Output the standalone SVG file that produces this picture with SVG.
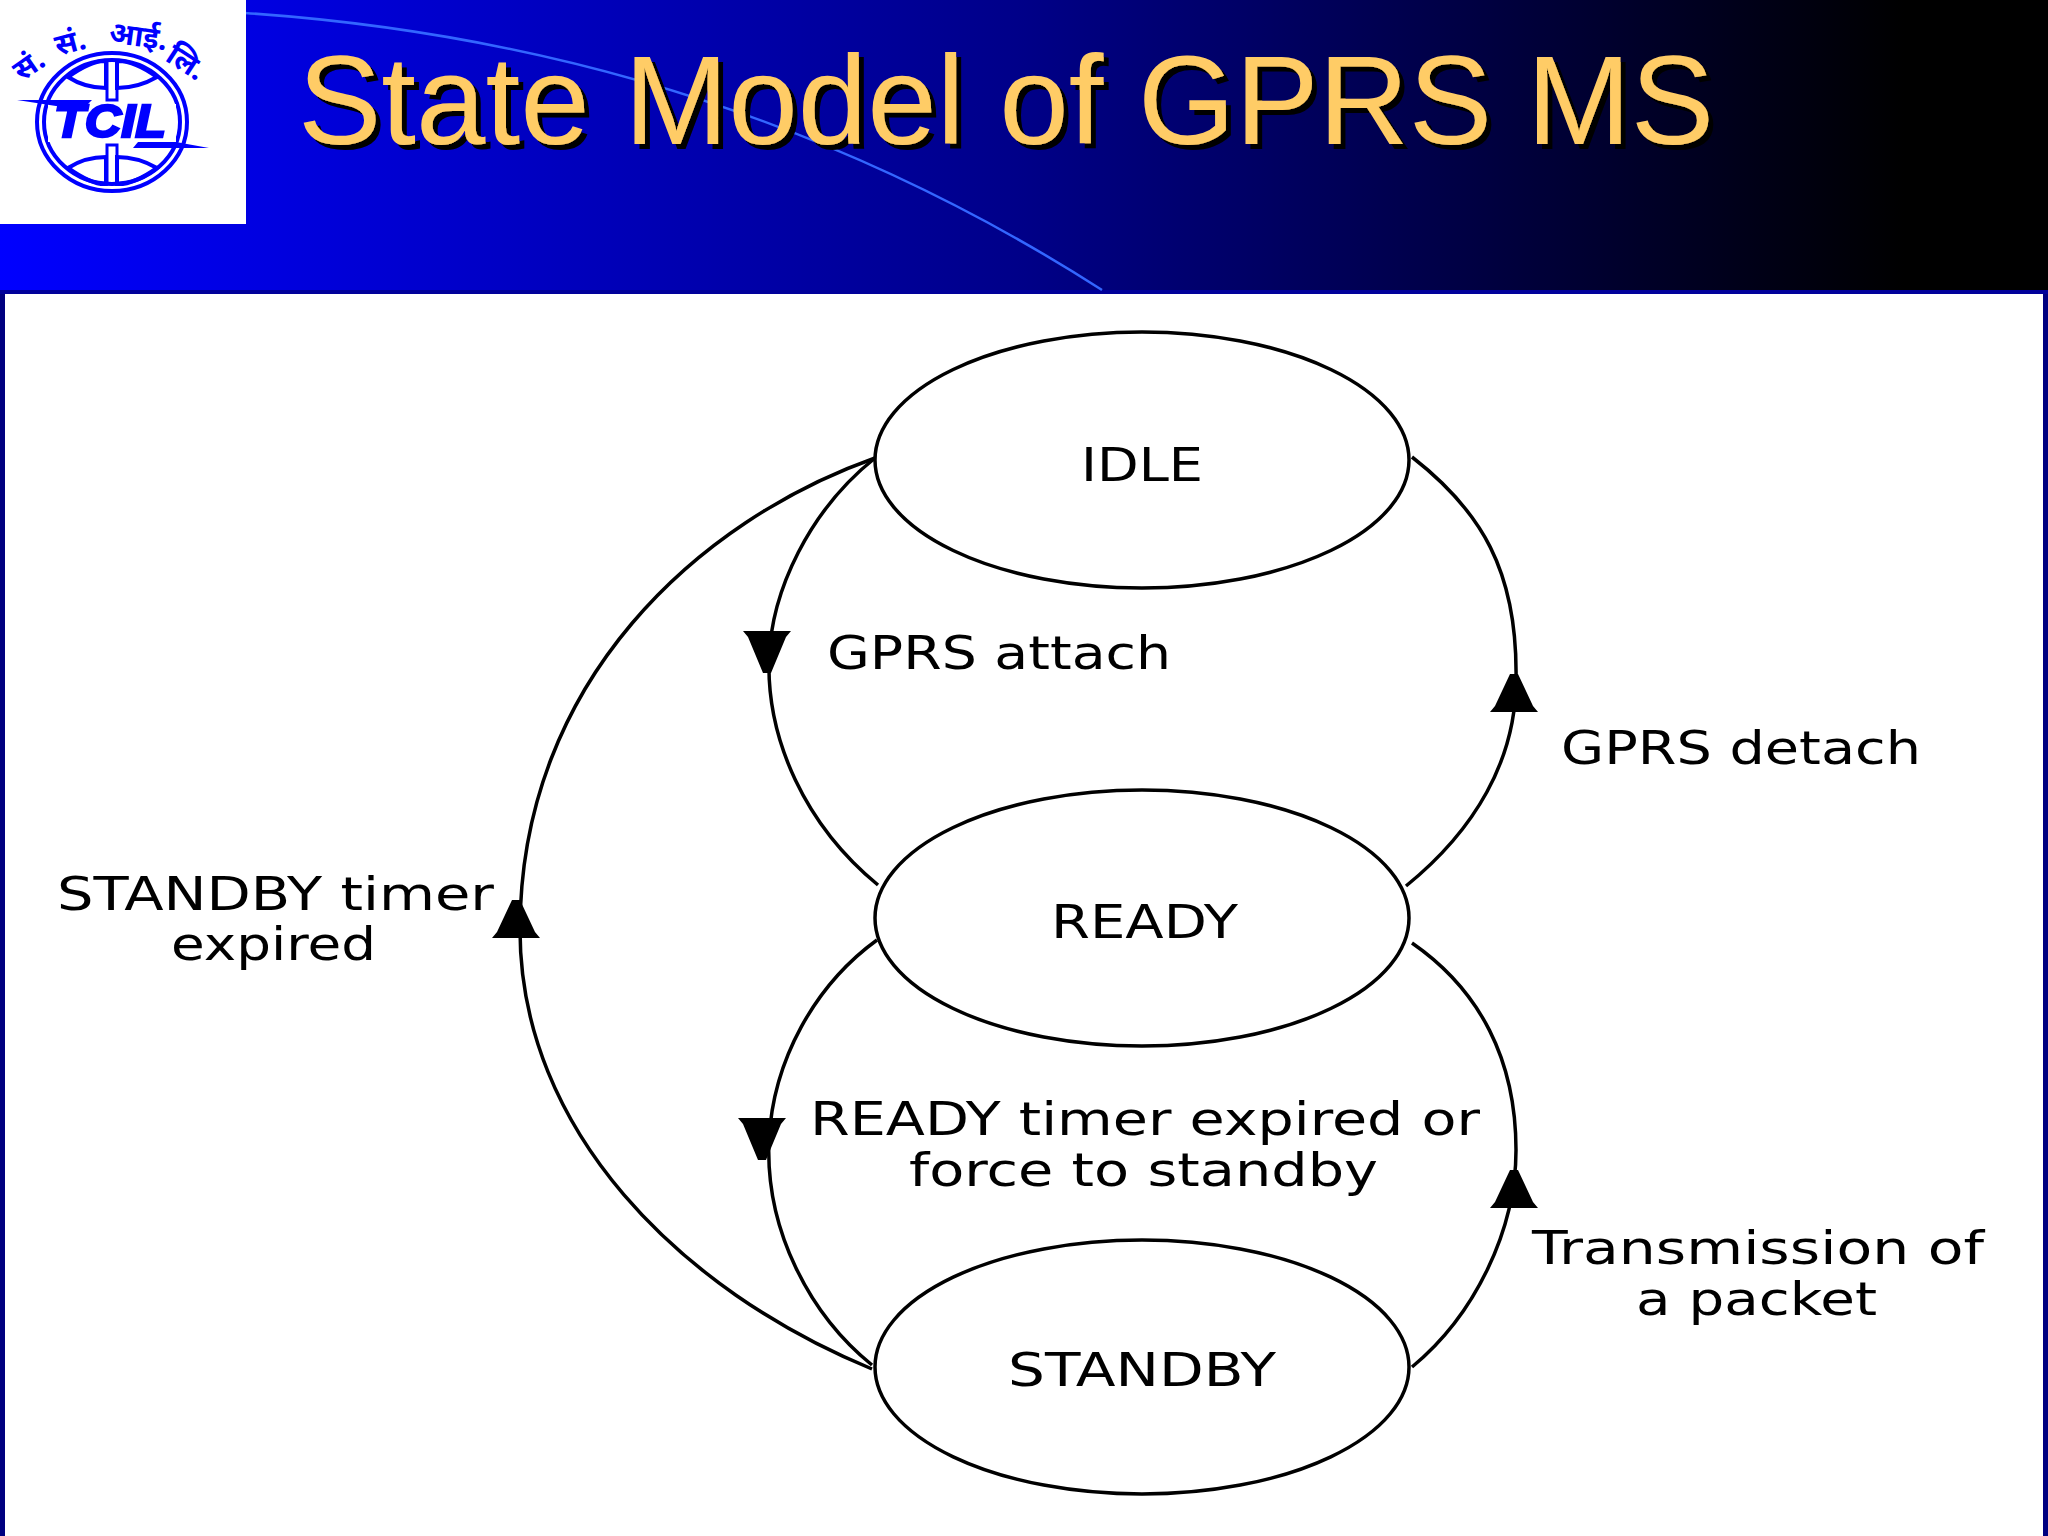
<svg xmlns="http://www.w3.org/2000/svg" width="2048" height="1536" viewBox="0 0 2048 1536">
<style>
.edge{fill:none;stroke:#000;stroke-width:3.5}
.state{fill:#fff;stroke:#000;stroke-width:3.5}
.lbl{font-family:"DejaVu Sans","Liberation Sans",sans-serif;font-size:47px;fill:#000}
.title{font-family:"Liberation Sans",Arial,sans-serif;font-size:126px;fill:#ffcc66}
.lg{fill:none;stroke:#0000ff;stroke-width:4}
.deva{font-family:"Noto Sans","Noto Sans CJK SC",sans-serif;font-weight:700;font-size:30px;fill:#0000ff}
</style>
<defs>
<linearGradient id="hdr" x1="0" x2="1" y1="0" y2="0"><stop offset="0" stop-color="#0000ff"/><stop offset=".5" stop-color="#000088"/><stop offset=".93" stop-color="#000000"/><stop offset="1" stop-color="#000000"/></linearGradient>
<filter id="sh" x="-5%" y="-20%" width="110%" height="140%"><feDropShadow dx="5" dy="5" stdDeviation=".6" flood-color="#000" flood-opacity="1"/></filter>
<polygon id="down" points="-24,0 24,0 19,6 4,42 -4,42 -19,6"/>
<polygon id="up" points="-4,0 4,0 19,32 24,38 -24,38 -19,32"/>
<path id="ltop" d="M68,77 Q92,60 106,61 L106,88 Q85,88 68,77Z M157,77 Q133,60 117,61 L117,88 Q138,88 157,77Z"/>
</defs>
<rect width="2048" height="1536" fill="#000080"/>
<rect width="2048" height="292" fill="url(#hdr)"/>
<rect x="0" y="290" width="2048" height="4" fill="#00009a"/>
<rect x="5" y="294" width="2038" height="1242" fill="#fff"/>
<path d="M245,13 Q720,45 1102,290" fill="none" stroke="#3366ff" stroke-width="2.5"/>
<g id="logo">
<rect width="246" height="224" fill="#fff"/>
<ellipse class="lg" cx="112" cy="122" rx="75" ry="69"/>
<ellipse class="lg" cx="112" cy="122" rx="68" ry="62" stroke-width="2.5"/>
<use href="#ltop" class="lg" stroke-width="3"/>
<use href="#ltop" class="lg" stroke-width="3" transform="translate(0,245) scale(1,-1)"/>
<path d="M107,60 V100 H117 V60 M107,184 V145 H117 V184" fill="none" stroke="#0000ff" stroke-width="3"/>
<rect x="48" y="104" width="128" height="38" fill="#fff"/>
<path d="M17,100 H92 L82,110 Z" fill="#0000ff"/>
<path d="M133,148 H209 L176,142 H138 Z" fill="#0000ff"/>
<text x="110" y="137" text-anchor="middle" font-family="Liberation Sans,Arial,sans-serif" font-weight="700" font-style="italic" font-size="46" fill="#0000ff" stroke="#0000ff" stroke-width="2.5" textLength="112" lengthAdjust="spacingAndGlyphs">TCIL</text>
<text class="deva" transform="translate(22,82) rotate(-35)">सं.</text>
<text class="deva" transform="translate(58,56) rotate(-15)">सं.</text>
<text class="deva" transform="translate(108,42) rotate(8)">आई.</text>
<text class="deva" transform="translate(164,60) rotate(33)">लि.</text>
</g>
<text class="title" x="298" y="144" textLength="1416" lengthAdjust="spacingAndGlyphs" filter="url(#sh)">State Model of GPRS MS</text>
<g id="connectors">
<path id="c-attach" class="edge" d="M875,458 C810,510 771,590 769,660 C767,740 805,825 878,885"/>
<path id="c-detach" class="edge" d="M1406,886 C1475,830 1516,760 1516,680 C1518,570 1480,510 1412,457"/>
<path id="c-expired" class="edge" d="M872,1369 C680,1290 520,1130 520,930 C520,680 700,520 875,458"/>
<path id="c-standby" class="edge" d="M877,940 C815,985 773,1060 769,1140 C765,1230 810,1315 872,1365"/>
<path id="c-packet" class="edge" d="M1412,1367 C1475,1315 1516,1230 1516,1150 C1516,1060 1480,990 1412,943"/>
<use href="#down" x="767" y="631"/>
<use href="#up" x="1514" y="674"/>
<use href="#up" x="516" y="900"/>
<use href="#down" x="762" y="1118"/>
<use href="#up" x="1514" y="1170"/>
</g>
<g id="idle"><ellipse class="state" cx="1142" cy="460" rx="267" ry="128"/><text class="lbl" x="1081" y="481" textLength="122" lengthAdjust="spacingAndGlyphs">IDLE</text></g>
<g id="ready"><ellipse class="state" cx="1142" cy="918" rx="267" ry="128"/><text class="lbl" x="1051" y="938" textLength="187" lengthAdjust="spacingAndGlyphs">READY</text></g>
<g id="standby"><ellipse class="state" cx="1142" cy="1367" rx="267" ry="127"/><text class="lbl" x="1008" y="1386" textLength="268" lengthAdjust="spacingAndGlyphs">STANDBY</text></g>
<g id="labels">
<text class="lbl" x="827" y="669" textLength="344" lengthAdjust="spacingAndGlyphs">GPRS attach</text>
<text class="lbl" x="1561" y="764" textLength="360" lengthAdjust="spacingAndGlyphs">GPRS detach</text>
<text class="lbl" x="57" y="910" textLength="437" lengthAdjust="spacingAndGlyphs">STANDBY timer</text>
<text class="lbl" x="171" y="960" textLength="205" lengthAdjust="spacingAndGlyphs">expired</text>
<text class="lbl" x="810" y="1135" textLength="670" lengthAdjust="spacingAndGlyphs">READY timer expired or</text>
<text class="lbl" x="909" y="1186" textLength="469" lengthAdjust="spacingAndGlyphs">force to standby</text>
<text class="lbl" x="1532" y="1264" textLength="452" lengthAdjust="spacingAndGlyphs">Transmission of</text>
<text class="lbl" x="1636" y="1315" textLength="241" lengthAdjust="spacingAndGlyphs">a packet</text>
</g>
</svg>
